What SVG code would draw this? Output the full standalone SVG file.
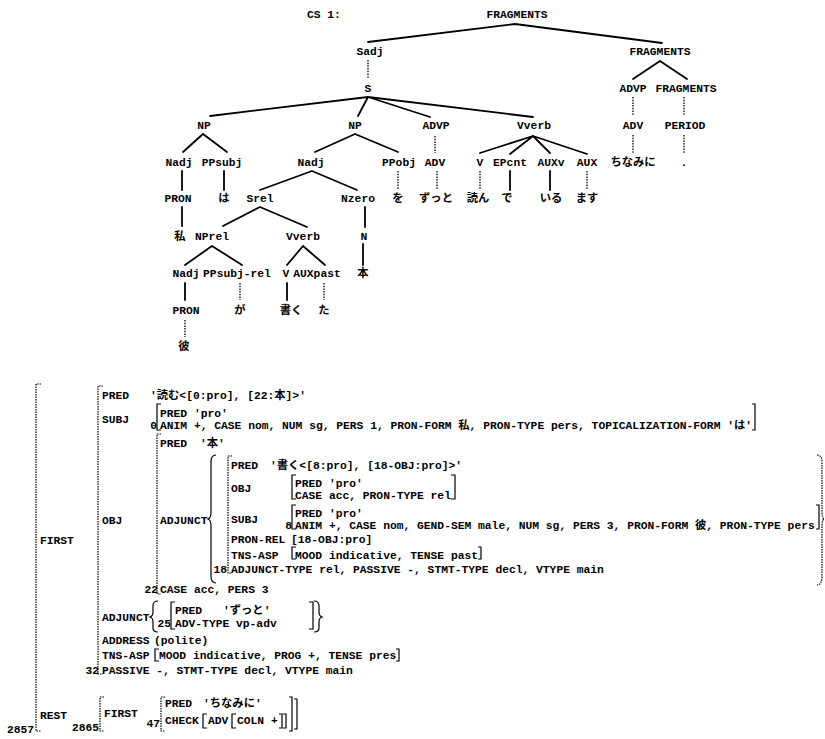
<svg xmlns="http://www.w3.org/2000/svg" width="825" height="739" viewBox="0 0 825 739">
<style>
.t{font-family:"Liberation Mono","Noto Sans CJK JP",monospace;font-size:11.3px;font-weight:bold;fill:#000}
.m{text-anchor:middle}
.r{text-anchor:end}
.e{stroke:#000;stroke-width:1.8;fill:none;stroke-linecap:round}
.d{stroke:#000;stroke-width:1.3;stroke-dasharray:1.5 1.2;fill:none}
.b{stroke:#000;stroke-width:1.2;fill:none}
.bd{stroke:#000;stroke-width:1.2;stroke-dasharray:1.5 1;fill:none}
</style>
<rect width="825" height="739" fill="#fff"/>
<text class="t" x="307" y="18">CS 1:</text>
<g id="connectors">
<path class="e" d="M515,24L368,42M515,24L662,43"/>
<path class="d" d="M368,60V78"/>
<path class="e" d="M368,97L210,116M368,97L358,116M368,97L430,117M368,97L533,117"/>
<path class="e" d="M660,61L633,79M660,61L687,79"/>
<path class="d" d="M633,97V115M684,97V115M633,135V153M684,135V153"/>
<path class="e" d="M203,134L183,152M203,134L227,152"/>
<path class="e" d="M355,134L315,152M355,134L398,152"/>
<path class="d" d="M435,136V153"/>
<path class="e" d="M533,136L480,153M533,136L510,154M533,136L550,153M533,136L587,154"/>
<path class="e" d="M182,171V190M224,171V190"/>
<path class="e" d="M312,171L260,190M312,171L357,190"/>
<path class="d" d="M398,171V190M437,171V190M480,171V190M587,171V190"/>
<path class="e" d="M510,171V190M550,171V190"/>
<path class="e" d="M182,207V226"/>
<path class="e" d="M260,207L223,226M260,207L307,227"/>
<path class="e" d="M365,207V227"/>
<path class="e" d="M212,246L185,265M212,246L242,265"/>
<path class="e" d="M303,246L287,265M303,246L325,265"/>
<path class="e" d="M363,244V265"/>
<path class="e" d="M185,283V300M287,283V300"/>
<path class="d" d="M240,283V300M324,283V300"/>
<path class="d" d="M185,320V337"/>
</g>
<g id="n_frag"><text class="t m" x="517" y="18">FRAGMENTS</text></g>
<g id="n_sadj"><text class="t m" x="370" y="55">Sadj</text></g>
<g id="n_frag2"><text class="t m" x="660" y="55">FRAGMENTS</text></g>
<g id="n_s"><text class="t m" x="368" y="92">S</text></g>
<g id="n_advp2"><text class="t m" x="633" y="92">ADVP</text></g>
<g id="n_frag3"><text class="t m" x="686" y="92">FRAGMENTS</text></g>
<g id="n_np1"><text class="t m" x="204" y="129">NP</text></g>
<g id="n_np2"><text class="t m" x="355" y="129">NP</text></g>
<g id="n_advp"><text class="t m" x="436" y="129">ADVP</text></g>
<g id="n_vverb"><text class="t m" x="534" y="129">Vverb</text></g>
<g id="n_adv2"><text class="t m" x="633" y="129">ADV</text></g>
<g id="n_period"><text class="t m" x="685" y="129">PERIOD</text></g>
<g id="n_nadj1"><text class="t m" x="179" y="166">Nadj</text></g>
<g id="n_ppsubj"><text class="t m" x="222" y="166">PPsubj</text></g>
<g id="n_nadj2"><text class="t m" x="311" y="166">Nadj</text></g>
<g id="n_ppobj"><text class="t m" x="399" y="166">PPobj</text></g>
<g id="n_adv"><text class="t m" x="435" y="166">ADV</text></g>
<g id="n_v"><text class="t m" x="480" y="166">V</text></g>
<g id="n_epcnt"><text class="t m" x="510" y="166">EPcnt</text></g>
<g id="n_auxv"><text class="t m" x="551" y="166">AUXv</text></g>
<g id="n_aux"><text class="t m" x="587" y="166">AUX</text></g>
<g id="w_chinamini"><text class="t m" x="633" y="166">ちなみに</text></g>
<g id="w_period"><text class="t m" x="684" y="166">.</text></g>
<g id="n_pron1"><text class="t m" x="178" y="202">PRON</text></g>
<g id="w_wa"><text class="t m" x="224" y="202">は</text></g>
<g id="n_srel"><text class="t m" x="260" y="202">Srel</text></g>
<g id="n_nzero"><text class="t m" x="358" y="202">Nzero</text></g>
<g id="w_wo"><text class="t m" x="398" y="202">を</text></g>
<g id="w_zutto"><text class="t m" x="436" y="202">ずっと</text></g>
<g id="w_yon"><text class="t m" x="478" y="202">読ん</text></g>
<g id="w_de"><text class="t m" x="507" y="202">で</text></g>
<g id="w_iru"><text class="t m" x="551" y="202">いる</text></g>
<g id="w_masu"><text class="t m" x="587" y="202">ます</text></g>
<g id="w_watashi"><text class="t m" x="180" y="240">私</text></g>
<g id="n_nprel"><text class="t m" x="212" y="240">NPrel</text></g>
<g id="n_vverb2"><text class="t m" x="303" y="240">Vverb</text></g>
<g id="n_n"><text class="t m" x="364" y="240">N</text></g>
<g id="n_nadj3"><text class="t m" x="186" y="277">Nadj</text></g>
<g id="n_ppsubjrel"><text class="t m" x="237" y="277">PPsubj-rel</text></g>
<g id="n_v2"><text class="t m" x="286" y="277">V</text></g>
<g id="n_auxpast"><text class="t m" x="317" y="277">AUXpast</text></g>
<g id="w_hon"><text class="t m" x="363" y="277">本</text></g>
<g id="n_pron2"><text class="t m" x="186" y="314">PRON</text></g>
<g id="w_ga"><text class="t m" x="240" y="314">が</text></g>
<g id="w_kaku"><text class="t m" x="291" y="314">書く</text></g>
<g id="w_ta"><text class="t m" x="324" y="314">た</text></g>
<g id="w_kare"><text class="t m" x="184" y="350">彼</text></g>

<g id="fstructure">
<path class="bd" d="M41,384H36V731H41"/>
<path class="bd" d="M103,386H98V674H103"/>
<path class="b" d="M161,404H157V430H161M752,404H755V430H752"/>
<path class="bd" d="M161,434H157V594H161"/>
<path class="b" d="M216,455Q211,455 211,462V512Q211,518 208,519Q211,520 211,526V576Q211,583 216,583"/>
<path class="bd" d="M232,456H228V573H232"/>
<path class="b" d="M296,475H292V499H296M451,475H455V499H451"/>
<path class="b" d="M296,505H292V529H296M816,505H819V529H816"/>
<path class="b" d="M296,547H292V559H296M478,547H481V559H478"/>
<path class="bd" d="M817,455Q822,455 822,462V512Q822,518 824,519Q822,520 822,526V576Q822,585 817,585"/>
<path class="b" d="M158,601Q153,601 153,606V612Q153,616 150,617Q153,618 153,622V628Q153,632 158,632"/>
<path class="b" d="M175,602H171V629H175M309,602H313V629H309"/>
<path class="b" d="M314,601Q319,601 319,606V612Q319,616 322,617Q319,618 319,622V628Q319,632 314,632"/>
<path class="b" d="M159,649H155V661H159M396,649H399V661H396"/>
<path class="bd" d="M104,697H100V731H104"/>
<path class="bd" d="M165,697H161V731H165"/>
<path class="b" d="M207,714H203V728H207M236,714H232V728H236M279,714H282V728H279M283,714H286V728H283"/>
<path class="b" d="M289,697H292V731H289M294,699H297V729H294"/>
<text class="t" x="102" y="399">PRED</text>
<text class="t" x="150" y="399">'読む&lt;[0:pro], [22:本]&gt;'</text>
<text class="t" x="102" y="423">SUBJ</text>
<text class="t" x="160" y="417">PRED 'pro'</text>
<text class="t r" x="157" y="429">0</text>
<text class="t" x="160" y="429">ANIM +, CASE nom, NUM sg, PERS 1, PRON-FORM 私, PRON-TYPE pers, TOPICALIZATION-FORM 'は'</text>
<text class="t" x="160" y="447">PRED</text>
<text class="t" x="200" y="447">'本'</text>
<text class="t" x="231" y="469">PRED</text>
<text class="t" x="270" y="469">'書く&lt;[8:pro], [18-OBJ:pro]&gt;'</text>
<text class="t" x="231" y="492">OBJ</text>
<text class="t" x="295" y="487">PRED 'pro'</text>
<text class="t" x="295" y="499">CASE acc, PRON-TYPE rel</text>
<text class="t" x="102" y="524">OBJ</text>
<text class="t" x="160" y="524">ADJUNCT</text>
<text class="t" x="231" y="523">SUBJ</text>
<text class="t" x="295" y="517">PRED 'pro'</text>
<text class="t r" x="292" y="529">8</text>
<text class="t" x="295" y="529">ANIM +, CASE nom, GEND-SEM male, NUM sg, PERS 3, PRON-FORM 彼, PRON-TYPE pers</text>
<text class="t" x="40" y="544">FIRST</text>
<text class="t" x="231" y="543">PRON-REL</text>
<text class="t" x="291" y="543">[18-OBJ:pro]</text>
<text class="t" x="231" y="559">TNS-ASP</text>
<text class="t" x="295" y="559">MOOD indicative, TENSE past</text>
<text class="t r" x="227" y="573">18</text>
<text class="t" x="231" y="573">ADJUNCT-TYPE rel, PASSIVE -, STMT-TYPE decl, VTYPE main</text>
<text class="t r" x="158" y="593">22</text>
<text class="t" x="160" y="593">CASE acc, PERS 3</text>
<text class="t" x="102" y="621">ADJUNCT</text>
<text class="t" x="175" y="614">PRED</text>
<text class="t" x="223" y="614">'ずっと'</text>
<text class="t r" x="171" y="627">25</text>
<text class="t" x="175" y="627">ADV-TYPE vp-adv</text>
<text class="t" x="102" y="644">ADDRESS</text>
<text class="t" x="154" y="644">(polite)</text>
<text class="t" x="102" y="659">TNS-ASP</text>
<text class="t" x="159" y="659">MOOD indicative, PROG +, TENSE pres</text>
<text class="t r" x="99" y="674">32</text>
<text class="t" x="102" y="674">PASSIVE -, STMT-TYPE decl, VTYPE main</text>
<text class="t" x="40" y="719">REST</text>
<text class="t" x="104" y="717">FIRST</text>
<text class="t" x="165" y="707">PRED</text>
<text class="t" x="203" y="707">'ちなみに'</text>
<text class="t r" x="160" y="727">47</text>
<text class="t" x="165" y="724">CHECK</text>
<text class="t" x="208" y="724">ADV</text>
<text class="t" x="237" y="724">COLN +</text>
<text class="t r" x="99" y="731">2865</text>
<text class="t r" x="34" y="733">2857</text>
</g>
</svg>
